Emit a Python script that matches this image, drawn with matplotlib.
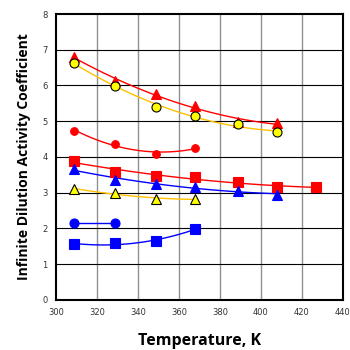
import numpy as np
import matplotlib
matplotlib.use("Agg")
import matplotlib.pyplot as plt

# temperatures (K)
T = [309, 329, 349, 368, 389, 408, 427]

# series values
red_tri = [6.80, 6.12, 5.75, 5.44, 4.99, 4.94]
yel_circ = [6.62, 5.99, 5.39, 5.15, 4.91, 4.69]
red_circ = [4.74, 4.36, 4.09, 4.25]
red_sq = [3.89, 3.58, 3.47, 3.44, 3.30, 3.16, 3.15]
blue_tri = [3.66, 3.36, 3.23, 3.17, 3.04, 2.95]
yel_tri = [3.11, 2.98, 2.83, 2.82]
blue_circ = [2.14, 2.14]
blue_sq = [1.57, 1.58, 1.65, 1.99]

series = [
    # values, line colour, marker, face, edge, size
    (red_tri, "#ff0000", "^", "#ff0000", "#ff0000", 7),
    (yel_circ, "#ffc000", "o", "#ffff00", "#000000", 6.5),
    (red_circ, "#ff0000", "o", "#ff0000", "#ff0000", 5.5),
    (red_sq, "#ff0000", "s", "#ff0000", "#ff0000", 6.5),
    (blue_tri, "#0000ff", "^", "#0000ff", "#0000ff", 7),
    (yel_tri, "#ffc000", "^", "#ffff00", "#000000", 7),
    (blue_circ, "#0000ff", "o", "#0000ff", "#0000ff", 6.5),
    (blue_sq, "#0000ff", "s", "#0000ff", "#0000ff", 6.5),
]

fig = plt.figure(figsize=(3.5, 3.5), dpi=100)
ax = fig.add_axes([0.16, 0.143, 0.82, 0.817])

for vals, lc, mk, fc, ec, ms in series:
    x = np.array(T[:len(vals)], dtype=float)
    y = np.array(vals)
    deg = min(2, len(x) - 1)
    coef = np.polyfit(x, y, deg)
    xs = np.linspace(x[0], x[-1], 100)
    ax.plot(xs, np.polyval(coef, xs), color=lc, lw=1, zorder=2)
    ax.plot(x, y, ls="none", marker=mk, ms=ms, mfc=fc, mec=ec, mew=0.8, zorder=3)

ax.set_xlim(300, 440)
ax.set_ylim(0, 8)
ax.set_xticks(range(300, 441, 20))
ax.set_yticks(range(0, 9))
for xv in range(320, 440, 20):
    ax.axvline(xv, color="#909090", lw=1, zorder=1)
for yv in range(1, 8):
    ax.axhline(yv, color="black", lw=0.8, zorder=1)
for s in ax.spines.values():
    s.set_linewidth(1.5)
ax.tick_params(length=0, labelsize=6, pad=6, labelcolor="#333333")
ax.set_xlabel("Temperature, K", fontsize=11.5, fontweight="bold", family="Open Sans", labelpad=11)
ax.set_ylabel("Infinite Dilution Activity Coefficient", fontsize=10, fontweight="bold", family="Open Sans", labelpad=8)

fig.savefig("out.png", dpi=100)
